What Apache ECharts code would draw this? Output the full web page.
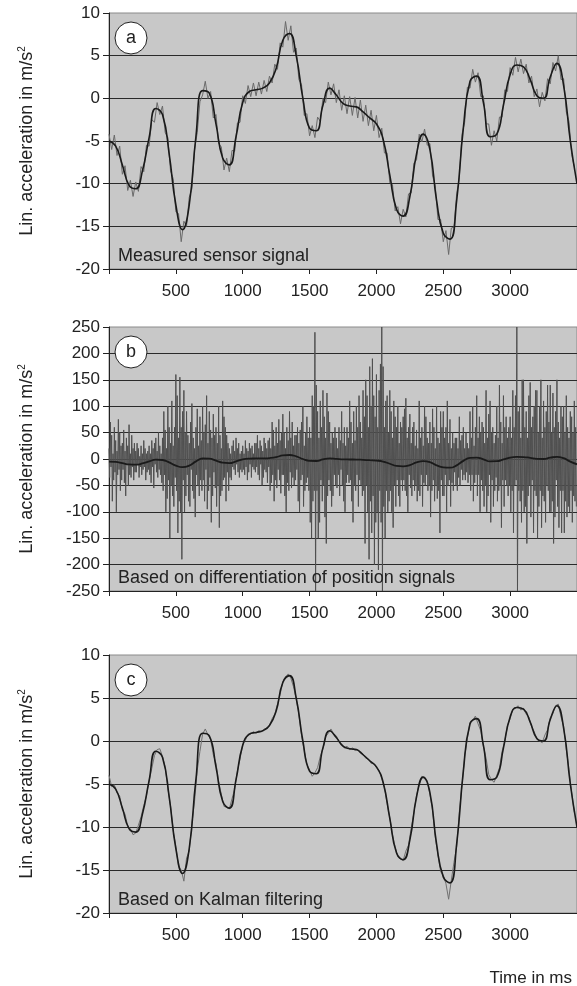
<!DOCTYPE html>
<html>
<head>
<meta charset="utf-8">
<script src="https://cdn.jsdelivr.net/npm/echarts@6/dist/echarts.min.js"></script>
<style>
  html, body { margin: 0; padding: 0; background: #fff; }
  #chart { width: 577px; height: 986px; }
</style>
</head>
<body>
<div id="chart"></div>
<script>
const FONT = '"Liberation Sans", Arial, sans-serif';

// time axis (ms)
const X_TICKS = [0, 500, 1000, 1500, 2000, 2500, 3000];
const X_LABELS = [500, 1000, 1500, 2000, 2500, 3000];

// reference acceleration (smooth black curve), one value every 50 ms from 0
const REF_STEP = 50;
const refSignal = [
  -5.0, -5.6, -7.8, -10.2, -10.6, -8.5, -4.6, -1.2, -1.9, -6.5,
  -12.5, -15.4, -12.5, -4.5, 0.9, 0.6, -3.0, -7.0, -7.8, -4.5,
  -0.5, 0.8, 1.0, 1.2, 1.8, 3.5, 6.8, 7.6, 5.0, 0.0,
  -3.5, -3.8, -0.8, 1.2, 0.4, -0.6, -0.9, -1.0, -1.6, -2.3,
  -3.0, -4.8, -9.0, -13.0, -13.8, -11.5, -6.5, -4.2, -6.0, -12.0,
  -15.8, -16.5, -12.0, -3.5, 2.0, 2.6, -0.5, -4.5, -4.2, -0.8,
  2.8, 3.9, 3.7, 2.2, 0.3, 0.0, 2.5, 4.1, 1.5, -5.0,
  -10.0
];

// (a) measured sensor signal, every 20 ms
const SENSOR_STEP = 20;
const sensorSignal = [
  -4.2, -6.0, -4.3, -6.7, -5.6, -8.9, -7.9, -10.8, -9.6, -11.5,
  -9.8, -10.9, -8.0, -8.6, -5.5, -5.6, -2.5, -2.8, -0.5, -1.9,
  -0.9, -4.0, -4.6, -8.5, -9.4, -13.3, -13.5, -16.8, -14.4, -15.0,
  -11.6, -10.6, -6.0, -4.0, -0.4, 0.4, 2.0, 0.0, 0.8, -2.3,
  -1.9, -5.3, -5.7, -8.4, -7.0, -8.6, -6.1, -6.2, -2.9, -2.8,
  0.3, -0.6, 1.5, 0.2, 1.8, 0.3, 1.9, 0.5, 2.1, 0.8,
  2.6, 1.8, 4.0, 3.4, 6.5, 6.0, 9.0, 6.8, 8.5, 5.4,
  5.9, 2.2, 1.6, -2.0, -1.8, -4.4, -3.2, -4.6, -2.2, -2.7,
  0.0, -0.5, 1.9, 0.4, 1.7, -0.5, 1.0, -1.4, 0.3, -1.8,
  0.2, -2.0, 0.1, -2.3, -0.2, -2.7, -0.8, -3.2, -1.4, -3.8,
  -2.0, -4.6, -3.5, -6.4, -6.4, -9.9, -10.1, -13.2, -12.7, -14.7,
  -13.0, -13.9, -11.2, -11.1, -7.6, -7.2, -4.2, -5.1, -3.6, -5.5,
  -5.3, -9.1, -10.2, -14.2, -14.2, -16.8, -15.5, -18.3, -15.2, -15.1,
  -11.2, -9.3, -4.2, -2.8, 1.3, 1.2, 3.4, 1.9, 3.0, 0.2,
  0.3, -3.0, -3.0, -5.5, -3.8, -5.0, -2.2, -2.2, 1.0, 0.8,
  3.6, 2.7, 4.8, 3.1, 4.6, 2.9, 4.0, 1.8, 2.6, 0.2,
  1.1, -1.0, 0.7, -0.3, 2.3, 1.7, 4.2, 3.2, 5.0, 2.2,
  2.3, -1.6, -2.7, -6.6, -8.0
];

// (b) differentiated position signal, every 5 ms (one row = 100 ms)
const DIFF_STEP = 5;
const diffSignal = [
  20, -35, 70, -15, 45, -80, 10, -40, 60, -25, 35, -100, 15, -30, 75, -20, 50, -60, 25, -40,
  30, -20, 55, -45, 15, -70, 40, -10, 25, -50, 65, -30, 10, -35, 45, -15, 20, -40, 30, -25,
  15, -25, 30, -10, 20, -35, 5, -15, 25, -30, 10, -20, 35, -15, 20, -40, 10, -25, 15, -20,
  25, -30, 10, -45, 35, -15, 20, -55, 30, -10, 40, -25, 15, -35, 50, -20, 25, -30, 10, -45,
  40, -60, 90, -30, 55, -100, 20, -75, 100, -40, 60, -150, 30, -50, 110, -70, 25, -90, 60, -35,
  160, -60, 120, -140, 40, -80, 155, -100, 60, -190, 90, -40, 130, -100, 50, -70, 90, -30, 45, -80,
  30, -90, 70, -20, 105, -60, 40, -75, 20, -110, 60, -30, 95, -50, 25, -70, 80, -40, 35, -60,
  100, -40, 50, -80, 65, -20, 120, -95, 30, -60, 90, -35, 55, -120, 40, -70, 85, -25, 45, -55,
  60, -90, 30, -50, 100, -130, 45, -70, 20, -60, 110, -40, 80, -35, 60, -80, 45, -25, 30, -60,
  20, -35, 10, -40, 25, -15, 35, -20, 15, -30, 40, -10, 20, -25, 30, -35, 10, -20, 15, -25,
  25, -20, 10, -30, 35, -15, 20, -40, 15, -25, 30, -10, 20, -35, 25, -15, 10, -20, 30, -25,
  30, -15, 45, -30, 20, -40, 35, -10, 25, -50, 15, -35, 40, -20, 30, -25, 20, -45, 35, -15,
  40, -60, 20, -45, 70, -30, 55, -80, 25, -40, 60, -55, 30, -20, 75, -40, 35, -65, 50, -30,
  85, -30, 50, -70, 20, -100, 60, -45, 35, -60, 90, -25, 40, -55, 70, -35, 25, -50, 45, -40,
  45, -20, 60, -80, 30, -100, 55, -40, 70, -30, 100, -90, 25, -60, 50, -45, 80, -35, 40, -60,
  60, -120, 40, -150, 120, -80, 100, -60, 240, -250, 140, -60, 90, -150, 40, -120, 110, -40, 60, -80,
  130, -50, 80, -110, 40, -160, 125, -70, 90, -40, 70, -60, 30, -90, 50, -70, 40, -30, 60, -50,
  40, -55, 20, -30, 60, -70, 35, -20, 90, -50, 30, -80, 60, -100, 25, -45, 60, -30, 40, -45,
  110, -40, 70, -80, 30, -120, 90, -50, 35, -60, 100, -30, 60, -90, 120, -40, 70, -50, 40, -70,
  130, -60, 80, -160, 150, -50, 120, -100, 60, -190, 175, -80, 100, -140, 190, -70, 120, -200, 80, -120,
  160, -100, 60, -210, 130, -60, 180, -120, 250, -250, 175, -90, 60, -150, 110, -60, 120, -100, 50, -80,
  130, -60, 90, -100, 40, -130, 110, -50, 80, -90, 60, -40, 100, -70, 30, -90, 70, -40, 60, -60,
  80, -40, 95, -60, 115, -70, 40, -100, 60, -30, 85, -55, 30, -70, 60, -40, 70, -60, 25, -50,
  55, -80, 20, -60, 110, -70, 40, -30, 60, -90, 25, -45, 100, -50, 80, -30, 40, -60, 30, -50,
  70, -110, 30, -60, 95, -40, 60, -80, 20, -50, 100, -75, 40, -60, 30, -140, 90, -40, 60, -70,
  90, -70, 40, -30, 60, -100, 110, -50, 30, -40, 75, -90, 20, -45, 50, -60, 30, -25, 40, -50,
  40, -60, 20, -35, 80, -50, 35, -20, 45, -40, 60, -30, 20, -40, 50, -25, 30, -45, 20, -30,
  90, -60, 40, -30, 100, -80, 25, -45, 60, -30, 120, -70, 40, -30, 80, -100, 50, -40, 70, -60,
  60, -90, 30, -50, 130, -100, 40, -70, 85, -30, 110, -120, 50, -40, 60, -90, 30, -60, 45, -35,
  100, -80, 40, -60, 140, -50, 70, -130, 30, -40, 120, -90, 60, -40, 80, -50, 40, -70, 60, -50,
  80, -100, 40, -60, 130, -140, 60, -50, 120, -40, 250, -250, 90, -60, 100, -80, 40, -120, 150, -60,
  150, -100, 60, -90, 90, -160, 40, -70, 120, -50, 145, -110, 60, -40, 80, -140, 100, -60, 130, -70,
  130, -150, 50, -90, 100, -60, 150, -130, 40, -70, 110, -80, 60, -120, 90, -50, 140, -60, 70, -100,
  140, -100, 50, -80, 125, -160, 60, -110, 90, -40, 150, -90, 70, -130, 40, -60, 100, -140, 80, -60,
  100, -140, 50, -80, 120, -110, 60, -90, 40, -100, 90, -60, 80, -120, 50, -70, 110, -80, 60, -90
];

// (c) Kalman filtered estimate, every 20 ms
const KALMAN_STEP = 20;
const kalmanSignal = [
  -4.0, -5.3, -5.1, -6.0, -6.4, -8.0, -8.5, -9.9, -10.2, -10.9,
  -10.7, -9.8, -8.8, -7.5, -6.4, -4.6, -3.2, -1.7, -1.0, -0.9,
  -1.8, -3.0, -5.5, -7.5, -10.4, -12.3, -14.6, -15.0, -16.3, -13.6,
  -12.8, -9.6, -7.0, -3.4, -1.2, 0.8, 1.4, 0.7, 0.2, -1.6,
  -2.6, -4.7, -6.2, -7.6, -7.7, -7.9, -6.7, -5.6, -3.5, -2.1,
  -0.4, 0.1, 0.8, 0.8, 1.1, 0.9, 1.2, 1.1, 1.4, 1.5,
  1.8, 2.6, 3.1, 4.3, 5.4, 6.9, 7.4, 7.8, 7.3, 6.3,
  4.9, 3.1, 0.6, -1.1, -2.7, -3.4, -4.1, -3.7, -3.1, -1.8,
  -0.9, 0.5, 0.9, 1.4, 0.8, 0.6, -0.1, -0.3, -0.8, -0.6,
  -1.0, -0.8, -1.1, -1.0, -1.4, -1.5, -2.0, -2.1, -2.6, -2.6,
  -3.1, -3.4, -4.4, -5.4, -7.3, -8.9, -10.9, -12.3, -13.5, -13.7,
  -13.9, -12.8, -12.1, -10.1, -8.4, -6.3, -5.1, -4.1, -4.4, -4.6,
  -6.2, -8.1, -11.2, -13.2, -15.2, -15.6, -16.6, -18.4, -16.2, -14.1,
  -12.3, -8.2, -5.2, -1.8, 0.3, 2.2, 2.4, 2.9, 2.0, 1.2,
  -0.6, -2.0, -3.9, -4.5, -4.8, -4.0, -3.1, -1.2, 0.0, 1.8,
  2.6, 3.7, 3.8, 4.1, 3.6, 3.8, 3.1, 2.8, 1.7, 1.1,
  0.2, 0.0, -0.2, 0.7, 1.3, 2.7, 3.2, 4.1, 4.3, 2.8,
  1.7, -1.0, -3.3, -6.0, -8.3
];

const PANEL_LETTERS = ['a', 'b', 'c'];
const PANEL_TEXTS = [
  'Measured sensor signal',
  'Based on differentiation of position signals',
  'Based on Kalman filtering'
];
const Y_RANGES = [[-20, 10, 5], [-250, 250, 50], [-20, 10, 5]];

const toPairs = (arr, step) => arr.map((v, i) => [i * step, v]);

// panel geometry
const GRIDS = [
  { top: 13, height: 256 },
  { top: 327, height: 264 },
  { top: 655, height: 258 }
];
const LEFT = 109;

const chart = echarts.init(document.getElementById('chart'), null, { renderer: 'canvas' });

const grid = GRIDS.map(g => ({
  left: LEFT, right: -1, top: g.top, height: g.height,
  show: true, backgroundColor: '#c8c8c8', borderColor: '#8a8a8a', borderWidth: 1
}));

const xAxis = GRIDS.map((g, i) => ({
  type: 'value', gridIndex: i, min: 0, max: 3500,
  axisLine: { show: true, onZero: false, lineStyle: { color: '#222', width: 1 } },
  axisTick: { show: true, inside: false, length: 5, customValues: X_TICKS, lineStyle: { color: '#222' } },
  axisLabel: {
    show: true, customValues: X_LABELS, margin: 14, color: '#222', fontSize: 17, fontFamily: FONT,
    formatter: v => String(v)
  },
  splitLine: { show: false }
}));

const yAxis = Y_RANGES.map((r, i) => ({
  type: 'value', gridIndex: i, min: r[0], max: r[1], interval: r[2],
  name: 'Lin. acceleration in m/s{sup|2}',
  nameLocation: 'middle', nameGap: 72, nameRotate: 90,
  nameTextStyle: {
    fontFamily: FONT, fontSize: 18, color: '#222',
    rich: { sup: { fontSize: 10, fontFamily: FONT, color: '#222', verticalAlign: 'top', padding: [0, 0, 10, 0] } }
  },
  axisLine: { show: true, onZero: false, lineStyle: { color: '#222', width: 1 } },
  axisTick: { show: true, inside: false, length: 6, lineStyle: { color: '#222' } },
  axisLabel: { margin: 9, color: '#222', fontSize: 17, fontFamily: FONT, formatter: v => String(v) },
  splitLine: { show: true, showMinLine: false, showMaxLine: false, lineStyle: { color: '#2a2a2a', width: 1 } }
}));

const noisy = (i, data, color, width) => ({
  type: 'line', xAxisIndex: i, yAxisIndex: i, data, showSymbol: false, symbol: 'none',
  lineStyle: { color, width }, z: 2, silent: true
});
const smooth = (i, width) => ({
  type: 'line', xAxisIndex: i, yAxisIndex: i, data: toPairs(refSignal, REF_STEP),
  showSymbol: false, symbol: 'none', smooth: 0.5,
  lineStyle: { color: '#1a1a1a', width }, z: 3, silent: true
});

const graphic = [];
GRIDS.forEach((g, i) => {
  graphic.push({
    type: 'circle', shape: { cx: 131, cy: g.top + 25, r: 16 },
    style: { fill: '#fff', stroke: '#222', lineWidth: 1 }, z: 100
  });
  graphic.push({
    type: 'text', x: 131, y: g.top + 25, z: 101,
    style: { text: PANEL_LETTERS[i], font: '18px ' + FONT, fill: '#222', align: 'center', verticalAlign: 'middle' }
  });
  graphic.push({
    type: 'text', x: 118, y: g.top + g.height - 13, z: 101,
    style: { text: PANEL_TEXTS[i], font: '18px ' + FONT, fill: '#222', align: 'left', verticalAlign: 'middle' }
  });
});
graphic.push({
  type: 'text', x: 572, y: 978, z: 101,
  style: { text: 'Time in ms', font: '17px ' + FONT, fill: '#222', align: 'right', verticalAlign: 'middle' }
});

chart.setOption({
  animation: false,
  grid, xAxis, yAxis, graphic,
  series: [
    noisy(0, toPairs(sensorSignal, SENSOR_STEP), '#6a6a6a', 1), smooth(0, 1.6),
    noisy(1, toPairs(diffSignal, DIFF_STEP), '#505050', 1), smooth(1, 1.8),
    noisy(2, toPairs(kalmanSignal, KALMAN_STEP), '#707070', 1), smooth(2, 1.6)
  ]
});
</script>
</body>
</html>
